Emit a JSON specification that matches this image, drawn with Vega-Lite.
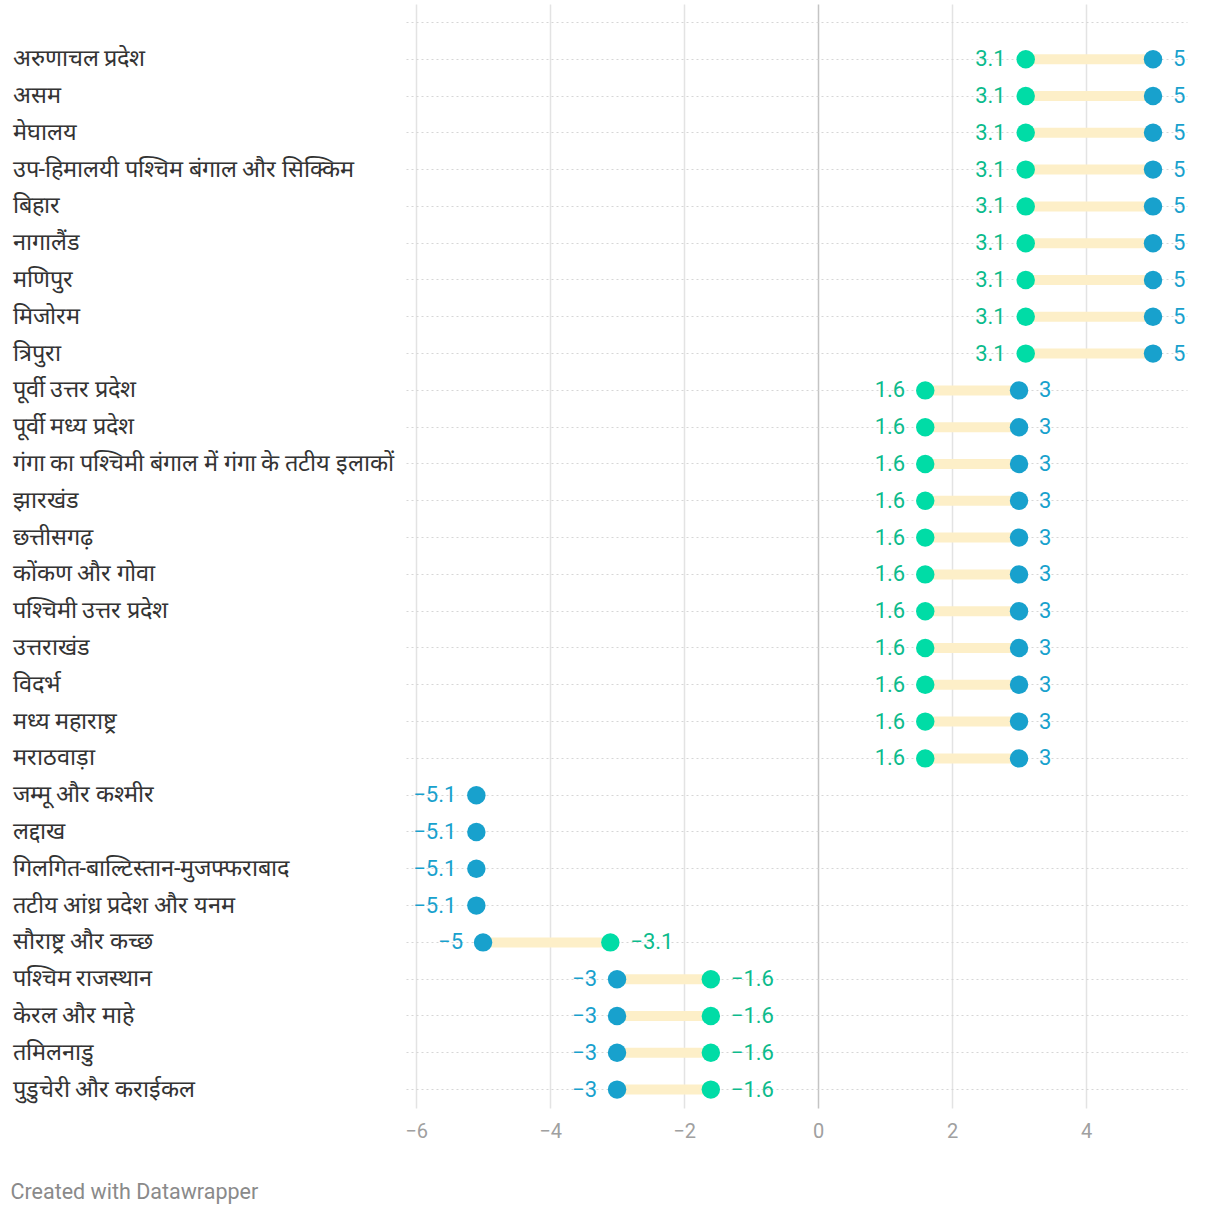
{
  "$schema": "https://vega.github.io/schema/vega-lite/v6.json",
  "width": 781,
  "height": 1104,
  "padding": {"left": 10, "top": 4, "right": 33, "bottom": 10},
  "background": "white",
  "config": {"view": {"stroke": null}, "font": "Roboto"},
  "data": {
    "values": [
      {"region": "अरुणाचल प्रदेश", "green": 3.1, "blue": 5},
      {"region": "असम", "green": 3.1, "blue": 5},
      {"region": "मेघालय", "green": 3.1, "blue": 5},
      {"region": "उप-हिमालयी पश्चिम बंगाल और सिक्किम", "green": 3.1, "blue": 5},
      {"region": "बिहार", "green": 3.1, "blue": 5},
      {"region": "नागालैंड", "green": 3.1, "blue": 5},
      {"region": "मणिपुर", "green": 3.1, "blue": 5},
      {"region": "मिजोरम", "green": 3.1, "blue": 5},
      {"region": "त्रिपुरा", "green": 3.1, "blue": 5},
      {"region": "पूर्वी उत्तर प्रदेश", "green": 1.6, "blue": 3},
      {"region": "पूर्वी मध्य प्रदेश", "green": 1.6, "blue": 3},
      {"region": "गंगा का पश्चिमी बंगाल में गंगा के तटीय इलाकों", "green": 1.6, "blue": 3},
      {"region": "झारखंड", "green": 1.6, "blue": 3},
      {"region": "छत्तीसगढ़", "green": 1.6, "blue": 3},
      {"region": "कोंकण और गोवा", "green": 1.6, "blue": 3},
      {"region": "पश्चिमी उत्तर प्रदेश", "green": 1.6, "blue": 3},
      {"region": "उत्तराखंड", "green": 1.6, "blue": 3},
      {"region": "विदर्भ", "green": 1.6, "blue": 3},
      {"region": "मध्य महाराष्ट्र", "green": 1.6, "blue": 3},
      {"region": "मराठवाड़ा", "green": 1.6, "blue": 3},
      {"region": "जम्मू और कश्मीर", "green": null, "blue": -5.1},
      {"region": "लद्दाख", "green": null, "blue": -5.1},
      {"region": "गिलगित-बाल्टिस्तान-मुजफ्फराबाद", "green": null, "blue": -5.1},
      {"region": "तटीय आंध्र प्रदेश और यनम", "green": null, "blue": -5.1},
      {"region": "सौराष्ट्र और कच्छ", "green": -3.1, "blue": -5},
      {"region": "पश्चिम राजस्थान", "green": -1.6, "blue": -3},
      {"region": "केरल और माहे", "green": -1.6, "blue": -3},
      {"region": "तमिलनाडु", "green": -1.6, "blue": -3},
      {"region": "पुडुचेरी और कराईकल", "green": -1.6, "blue": -3}
    ]
  },
  "encoding": {
    "y": {
      "field": "region",
      "type": "nominal",
      "scale": {
        "domain": ["", "अरुणाचल प्रदेश", "असम", "मेघालय", "उप-हिमालयी पश्चिम बंगाल और सिक्किम", "बिहार", "नागालैंड", "मणिपुर", "मिजोरम", "त्रिपुरा", "पूर्वी उत्तर प्रदेश", "पूर्वी मध्य प्रदेश", "गंगा का पश्चिमी बंगाल में गंगा के तटीय इलाकों", "झारखंड", "छत्तीसगढ़", "कोंकण और गोवा", "पश्चिमी उत्तर प्रदेश", "उत्तराखंड", "विदर्भ", "मध्य महाराष्ट्र", "मराठवाड़ा", "जम्मू और कश्मीर", "लद्दाख", "गिलगित-बाल्टिस्तान-मुजफ्फराबाद", "तटीय आंध्र प्रदेश और यनम", "सौराष्ट्र और कच्छ", "पश्चिम राजस्थान", "केरल और माहे", "तमिलनाडु", "पुडुचेरी और कराईकल"],
        "paddingInner": 0,
        "paddingOuter": 0
      },
      "axis": {
        "title": null,
        "domain": false,
        "ticks": false,
        "tickSize": 0,
        "bandPosition": 0.5,
        "labelAlign": "left",
        "labelBaseline": "middle",
        "labelPadding": 394,
        "labelFontSize": 23.5,
        "labelColor": "#333333",
        "labelLimit": 420,
        "grid": true,
        "gridDash": [2, 3],
        "gridColor": "#d6d6d6",
        "gridWidth": 1
      }
    }
  },
  "layer": [
    {
      "transform": [{"filter": "isValid(datum.green)"}],
      "mark": {"type": "rule", "strokeWidth": 10, "color": "#fdefc8"},
      "encoding": {
        "x": {
          "field": "green",
          "type": "quantitative",
          "scale": {"domain": [-6.15, 5.507], "nice": false, "zero": false},
          "axis": {
            "title": "Created with Datawrapper",
            "titleX": -396,
            "titleY": 84,
            "titleAlign": "left",
            "titleAnchor": "start",
            "titleBaseline": "middle",
            "titleFontSize": 21.5,
            "titleFontWeight": "normal",
            "titleColor": "#8a8a8a",
            "values": [-6, -4, -2, 0, 2, 4],
            "format": "~g",
            "domain": false,
            "ticks": false,
            "labelFontSize": 20,
            "labelColor": "#a0a0a0",
            "labelPadding": 13,
            "grid": true,
            "gridColor": {"condition": {"test": "datum.value === 0", "value": "#c4c4c4"}, "value": "#e3e3e3"},
            "gridWidth": 1.5
          }
        },
        "x2": {"field": "blue"}
      }
    },
    {
      "transform": [
        {"fold": ["green", "blue"], "as": ["key", "value"]},
        {"filter": "isValid(datum.value)"}
      ],
      "mark": {"type": "circle", "size": 340, "opacity": 1},
      "encoding": {
        "x": {"field": "value", "type": "quantitative", "title": "Created with Datawrapper"},
        "color": {
          "field": "key",
          "type": "nominal",
          "scale": {"domain": ["green", "blue"], "range": ["#00dca6", "#18a1cd"]},
          "legend": null
        }
      }
    },
    {
      "transform": [
        {"fold": ["green", "blue"], "as": ["key", "value"]},
        {"filter": "isValid(datum.value)"},
        {"joinaggregate": [{"op": "min", "field": "value", "as": "vmin"}], "groupby": ["region"]},
        {"filter": "datum.value === datum.vmin"}
      ],
      "mark": {"type": "text", "align": "right", "baseline": "middle", "dx": -20, "fontSize": 22},
      "encoding": {
        "x": {"field": "value", "type": "quantitative", "title": "Created with Datawrapper"},
        "text": {"field": "value", "type": "quantitative", "format": "~g"},
        "color": {"condition": {"test": "datum.key === 'green'", "value": "#0cbb8c"}, "value": "#18a1cd"}
      }
    },
    {
      "transform": [
        {"fold": ["green", "blue"], "as": ["key", "value"]},
        {"filter": "isValid(datum.value)"},
        {"joinaggregate": [{"op": "min", "field": "value", "as": "vmin"}, {"op": "max", "field": "value", "as": "vmax"}], "groupby": ["region"]},
        {"filter": "datum.value === datum.vmax && datum.vmax !== datum.vmin"}
      ],
      "mark": {"type": "text", "align": "left", "baseline": "middle", "dx": 20, "fontSize": 22},
      "encoding": {
        "x": {"field": "value", "type": "quantitative", "title": "Created with Datawrapper"},
        "text": {"field": "value", "type": "quantitative", "format": "~g"},
        "color": {"condition": {"test": "datum.key === 'green'", "value": "#0cbb8c"}, "value": "#18a1cd"}
      }
    }
  ]
}
